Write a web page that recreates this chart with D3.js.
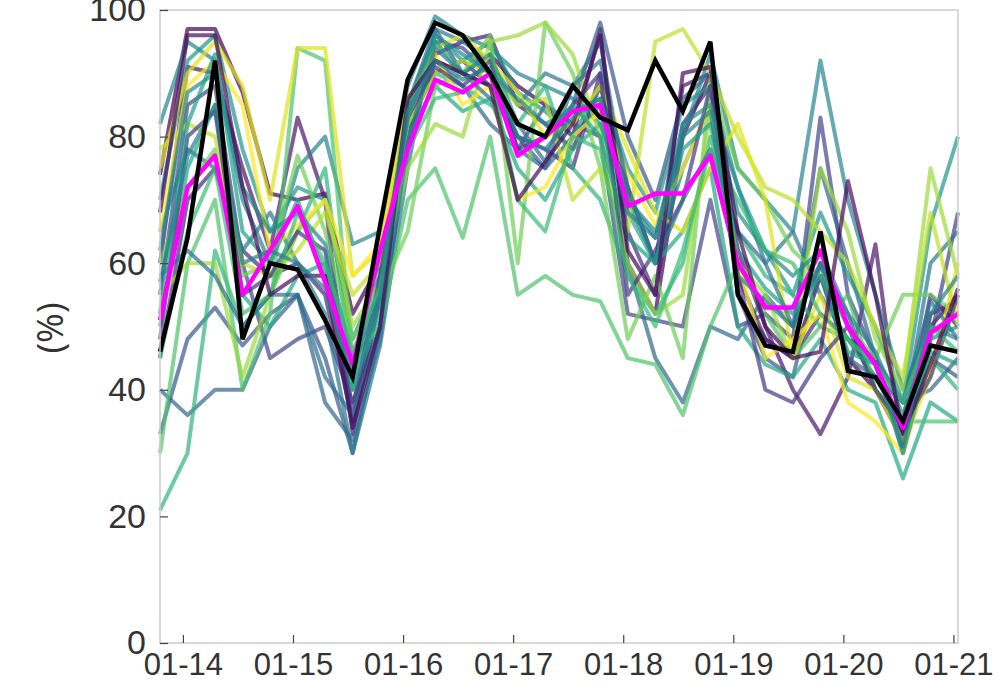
<!DOCTYPE html>
<html>
<head>
<meta charset="utf-8">
<script src="https://cdn.jsdelivr.net/npm/d3@7"></script>
<style>
  html, body { margin: 0; padding: 0; background: #fff; }
  svg { display: block; }
</style>
</head>
<body>
<div id="chart"></div>
<script>
/* Occupancy-style chart: many viridis runs + mean (magenta) + highlight (black) */

const tickLabels = ["01-14", "01-15", "01-16", "01-17", "01-18", "01-19", "01-20", "01-21"];
const yTicks = [0, 20, 40, 60, 80, 100];

// one sample every 6 h, first at 01-13 19:00
const start = new Date(2021, 0, 13, 19);
const times = d3.range(30).map(i => d3.timeHour.offset(start, 6 * i));
const tickDates = tickLabels.map((d, i) => new Date(2021, 0, 14 + i));

const runs = [
  [74,97,97,87,71,70,71,52,60,85,92,90,93,88,85,80,97,60,52,80,90,55,48,45,58,45,40,32,50,55],
  [60,91,90,75,62,83,70,33,55,80,93,95,96,85,82,78,88,72,60,88,90,62,50,40,33,42,63,30,52,54],
  [45,70,75,62,58,60,55,35,55,82,90,92,88,80,78,75,90,65,55,82,88,58,48,45,52,48,45,33,55,50],
  [55,85,88,60,45,48,50,38,50,78,95,94,90,78,85,82,80,52,51,50,70,50,52,48,83,55,45,30,48,68],
  [33,48,53,47,52,55,45,30,50,85,97,90,88,80,75,85,98,80,70,86,90,55,45,42,60,52,40,35,45,42],
  [40,36,40,40,50,55,38,32,48,80,92,88,82,78,75,80,85,60,45,38,50,48,55,50,75,60,45,38,40,45],
  [65,78,75,62,68,60,52,30,47,75,97,95,92,85,90,88,95,70,60,75,85,72,60,65,55,48,42,35,60,65],
  [82,95,92,70,60,75,80,63,65,88,99,96,94,90,88,86,82,70,65,80,93,75,70,65,92,70,55,40,50,48],
  [70,92,96,78,65,72,70,48,58,84,96,92,95,87,84,80,88,75,68,85,88,72,62,55,68,58,50,38,66,80],
  [50,75,85,55,50,58,60,40,52,80,88,84,86,75,70,78,82,68,60,65,75,50,44,42,48,40,38,26,38,35],
  [21,30,62,50,55,65,75,42,60,82,90,88,85,82,88,75,70,58,52,60,80,65,58,55,50,48,42,34,45,40],
  [30,60,70,40,52,94,92,45,50,70,75,64,80,55,58,55,54,45,44,36,50,60,52,45,50,55,40,35,35,35],
  [60,72,78,58,60,77,65,48,55,65,88,90,96,60,98,90,75,48,58,45,89,75,70,62,58,50,45,55,55,52],
  [55,60,60,42,55,65,70,50,57,75,82,80,95,96,98,93,80,60,52,55,84,60,55,45,75,65,48,40,75,58],
  [78,82,80,60,58,62,68,55,60,82,90,92,90,85,86,70,75,65,95,97,90,80,72,70,65,60,50,42,68,50],
  [75,90,95,88,70,94,94,58,62,84,94,96,92,87,80,82,88,78,68,65,75,82,70,45,55,42,40,32,42,60],
  [65,88,92,85,62,66,70,58,63,86,93,85,88,70,72,80,84,74,66,75,85,60,45,48,52,38,35,30,44,54],
  [48,80,84,55,58,65,62,37,58,83,91,88,92,78,80,85,90,55,62,70,88,58,40,38,45,50,40,34,42,55],
  [58,62,58,50,55,55,42,36,50,79,94,90,86,82,76,88,92,72,60,70,78,65,60,50,60,45,42,38,54,48],
  [62,87,90,72,65,68,63,44,56,85,96,93,90,86,82,84,86,70,64,82,85,68,62,58,62,52,46,36,48,50],
  [52,82,93,65,60,70,58,40,54,83,95,90,93,82,80,85,80,64,60,78,82,62,56,52,58,46,44,30,46,44],
  [45,65,75,52,55,68,60,46,56,78,86,87,90,70,65,80,78,58,50,62,78,70,62,60,52,48,44,38,50,46],
  [68,96,96,72,55,58,58,34,50,86,92,90,88,70,76,82,96,62,55,90,91,65,50,45,46,73,55,33,44,56],
  [57,77,85,60,62,60,56,42,55,84,92,89,91,80,78,83,86,68,64,80,84,58,54,50,60,50,44,31,52,58]
];

const meanLine = [51,72,77,55,62,69,57,44,62,78,89,87,90,77,80,84,85,69,71,71,77,60,53,53,62,50,44,34,49,52];
const highlight = [46,64,92,48,60,59,51,42,66,89,98,96,90,82,80,88,83,81,92,84,95,55,47,46,65,43,42,35,47,46];

// position of each run on the viridis ramp
const runColorT = [0.0,0.06,0.12,0.2,0.27,0.33,0.4,0.45,0.53,0.6,0.65,0.72,0.78,0.85,0.9,0.95,1.0,0.16,0.37,0.48,0.56,0.68,0.02,0.43];

const W = 999, H = 683;
const margin = { top: 10, right: 41, bottom: 40, left: 160 };
const w = W - margin.left - margin.right;
const h = H - margin.top - margin.bottom;

const svg = d3.select("#chart").append("svg")
  .attr("width", W).attr("height", H)
  .style("font-family", "'Open Sans', 'Noto Sans', sans-serif");

const g = svg.append("g").attr("transform", `translate(${margin.left},${margin.top})`);

const x = d3.scaleTime().domain([times[0], times[times.length - 1]]).range([0, w]);
const y = d3.scaleLinear().domain([0, 100]).range([h, 0]);

const line = d3.line()
  .x((d, i) => x(times[i]))
  .y(d => y(d));

/* lines */
svg.append("clipPath").attr("id", "plotclip")
  .append("rect").attr("x", -2).attr("y", -2).attr("width", w + 4).attr("height", h + 4);

const lines = g.append("g").attr("clip-path", "url(#plotclip)");

runs.forEach((r, i) => {
  lines.append("path")
    .datum(r)
    .attr("fill", "none")
    .attr("stroke", d3.interpolateViridis(runColorT[i]))
    .attr("stroke-opacity", 0.7)
    .attr("stroke-width", 4)
    .attr("stroke-linejoin", "round")
    .attr("d", line);
});

lines.append("path")
  .datum(meanLine)
  .attr("fill", "none")
  .attr("stroke", "#ff00ff")
  .attr("stroke-width", 4.5)
  .attr("stroke-linejoin", "round")
  .attr("d", line);

lines.append("path")
  .datum(highlight)
  .attr("fill", "none")
  .attr("stroke", "#000")
  .attr("stroke-width", 4.5)
  .attr("stroke-linejoin", "miter")
  .attr("d", line);

/* frame */
g.append("rect")
  .attr("x", 0).attr("y", 0).attr("width", w).attr("height", h)
  .attr("fill", "none").attr("stroke", "#cccccc").attr("stroke-width", 1.5);

/* axes */
const axisText = "#333";

g.append("g")
  .attr("transform", `translate(0,${h})`)
  .call(d3.axisBottom(x).tickValues(tickDates).tickFormat((d, i) => tickLabels[i])
    .tickSizeInner(-8).tickSizeOuter(0).tickPadding(10))
  .call(a => a.select(".domain").remove())
  .call(a => a.selectAll("line").attr("stroke", "#444").attr("stroke-width", 1.2))
  .call(a => a.selectAll("text").attr("fill", axisText).style("font-size", "31px"));

g.append("g")
  .call(d3.axisLeft(y).tickValues(yTicks).tickFormat(d3.format("d"))
    .tickSizeInner(-8).tickSizeOuter(0).tickPadding(14))
  .call(a => a.select(".domain").remove())
  .call(a => a.selectAll("line").attr("stroke", "#444").attr("stroke-width", 1.2))
  .call(a => a.selectAll("text").attr("fill", axisText).style("font-size", "34px"));

svg.append("text")
  .attr("transform", `translate(53,328) rotate(-90)`)
  .attr("text-anchor", "middle")
  .attr("dominant-baseline", "middle")
  .attr("fill", axisText)
  .style("font-size", "36px")
  .text("(%)");
</script>
</body>
</html>
